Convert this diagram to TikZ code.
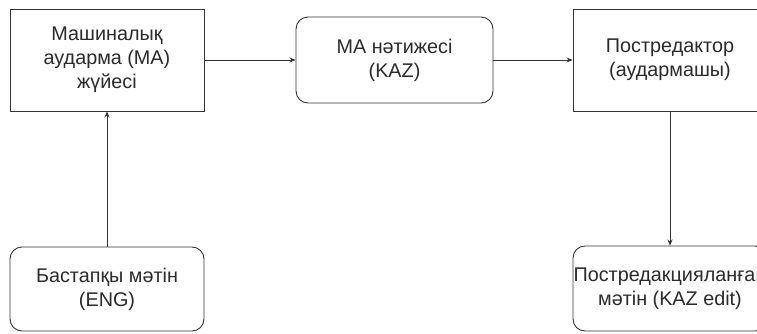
\documentclass[tikz,border=0pt]{standalone}
\usepackage{fontspec}
\setmainfont{Liberation Sans}
\usetikzlibrary{arrows.meta}
\definecolor{ln}{HTML}{333333}
\definecolor{tx}{HTML}{2A2A2A}
\tikzset{
  box/.style={draw=ln, line width=0.9pt, fill=white, align=center, text=tx,
    font=\fontsize{19.8}{24}\selectfont, inner sep=0pt},
  rbox/.style={box, rounded corners=12pt},
  conn/.style={draw=ln, line width=0.8pt, -{Stealth[length=6pt,width=5pt]}}
}
\begin{document}
\begin{tikzpicture}[x=1pt,y=-1pt]
\useasboundingbox (0,0) rectangle (757,333);
\clip (0,0) rectangle (757,333);
\fill[white] (0,0) rectangle (757,333);
\node[box, minimum width=194pt, minimum height=102pt] (ma) at (107,60) {Машиналық\\аударма (МА)\\жүйесі};
\node[rbox, minimum width=197pt, minimum height=86pt] (res) at (394.5,60) {МА нәтижесі\\(KAZ)};
\node[box, minimum width=194pt, minimum height=102pt] (post) at (670,60) {Постредактор\\(аудармашы)};
\node[rbox, minimum width=194pt, minimum height=84pt] (src) at (107,289) {Бастапқы мәтін\\(ENG)};
\node[rbox, minimum width=194pt, minimum height=85pt] (fin) at (670,288.5) {Постредакцияланған\\мәтін (KAZ edit)};
\draw[conn] (ma) -- (res);
\draw[conn] (res) -- (post);
\draw[conn] (src) -- (ma);
\draw[conn] (post) -- (fin);
\end{tikzpicture}
\end{document}
